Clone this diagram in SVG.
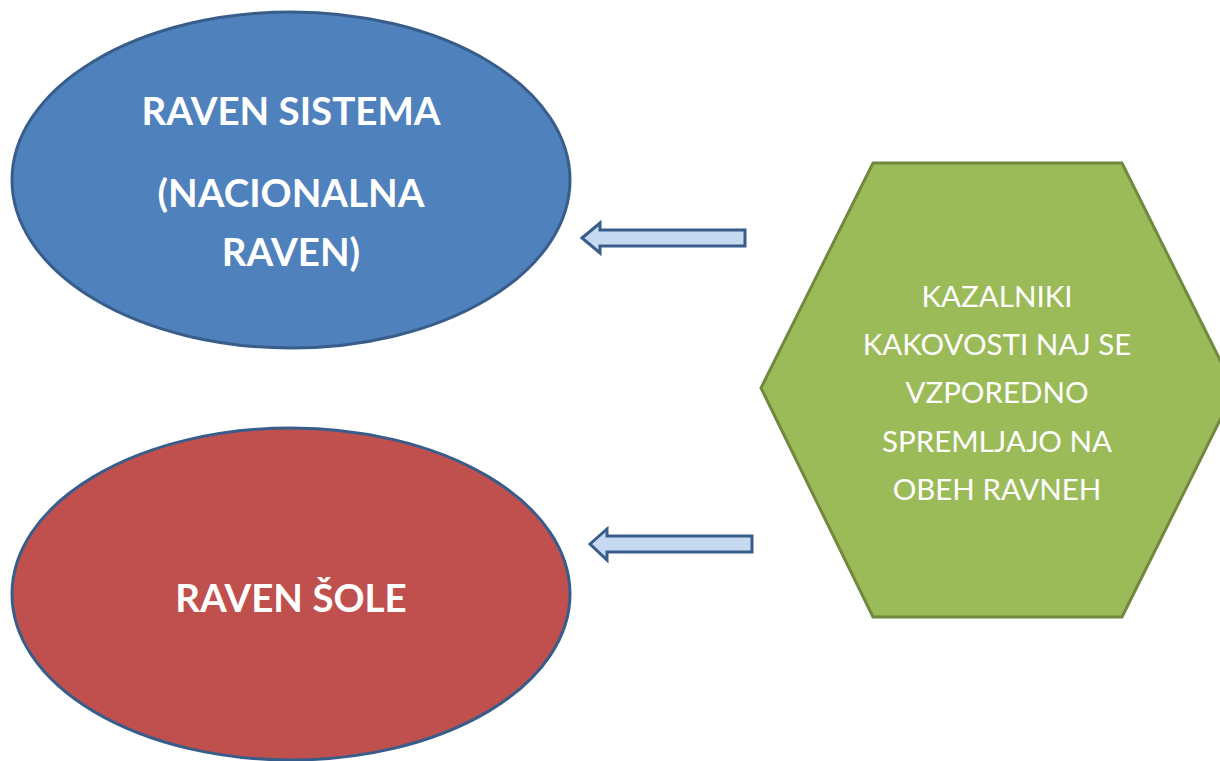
<svg xmlns="http://www.w3.org/2000/svg" width="1220" height="761" viewBox="0 0 1220 761">
<style>
.bold{font-family:Lato,"Open Sans","Liberation Sans",sans-serif;font-weight:bold;font-size:38.5px;fill:#fff;text-anchor:middle}
.reg{font-family:Lato,"Open Sans","Liberation Sans",sans-serif;font-size:29.5px;fill:#fff;text-anchor:middle}
.arrow{fill:#C6D9F1;stroke:#385D8A;stroke-width:3;stroke-linejoin:miter}
</style>
<rect width="1220" height="761" fill="#fff"/>
<g id="sistem">
<ellipse cx="291" cy="180" rx="279" ry="168" fill="#4F81BD" stroke="#385D8A" stroke-width="3"/>
<text class="bold" x="291" y="125">RAVEN SISTEMA</text>
<text class="bold" x="291" y="207">(NACIONALNA</text>
<text class="bold" x="291" y="266">RAVEN)</text>
</g>
<g id="sola">
<ellipse cx="291" cy="594" rx="279" ry="166" fill="#C0504D" stroke="#385D8A" stroke-width="3"/>
<text class="bold" x="291" y="612">RAVEN ŠOLE</text>
</g>
<g id="kazalniki">
<polygon points="873,163 1122,163 1235,390 1122,617 873,617 761,388" fill="#9BBB59" stroke="#71893F" stroke-width="3"/>
<text class="reg" x="997" y="307">KAZALNIKI</text>
<text class="reg" x="997" y="355">KAKOVOSTI NAJ SE</text>
<text class="reg" x="997" y="403">VZPOREDNO</text>
<text class="reg" x="997" y="452">SPREMLJAJO NA</text>
<text class="reg" x="997" y="500">OBEH RAVNEH</text>
</g>
<g id="connectors">
<polygon class="arrow" points="582,238 600,223 600,230 745,230 745,246 600,246 600,253"/>
<polygon class="arrow" points="590,544 607,529 607,536 752,536 752,552 607,552 607,560"/>
</g>
</svg>
